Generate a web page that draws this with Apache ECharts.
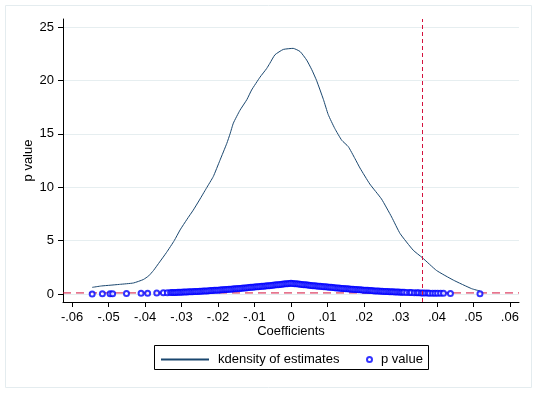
<!DOCTYPE html>
<html><head><meta charset="utf-8">
<script src="https://cdn.jsdelivr.net/npm/echarts@6/dist/echarts.min.js"></script>
<style>html,body{margin:0;padding:0;background:#fff}#c{width:538px;height:394px}</style>
</head><body><div id="c"></div>
<script>
const xTicks = [-0.06,-0.05,-0.04,-0.03,-0.02,-0.01,0,0.01,0.02,0.03,0.04,0.05,0.06];
const yTicks = [0,5,10,15,20,25];
const xRange = [-0.0625, 0.0625];
const yRange = [-0.75, 25.75];

const densityX = [-0.0545,-0.052,-0.0496,-0.047,-0.0432,-0.0405,-0.039,-0.0377,-0.036,-0.0341,-0.032,-0.0304,-0.0285,-0.0268,-0.0251,-0.0232,-0.0213,-0.0195,-0.0176,-0.0167,-0.0158,-0.014,-0.0121,-0.0108,-0.0085,-0.0067,-0.0058,-0.0044,-0.0021,0.0006,0.0025,0.0043,0.0057,0.007,0.0089,0.0102,0.012,0.0139,0.0157,0.0175,0.0189,0.0216,0.0248,0.0276,0.0299,0.0335,0.036,0.0399,0.0445,0.0495,0.0518];
const densityY = [0.62,0.75,0.82,0.9,1.03,1.35,1.7,2.2,3.0,3.9,5.0,6.0,7.0,7.85,8.8,9.9,11.0,12.5,14.1,15.0,16.0,17.2,18.2,19.1,20.3,21.1,21.6,22.4,22.9,23.0,22.7,21.9,21.0,20.0,18.2,16.8,15.5,14.4,13.8,12.7,11.8,10.3,8.9,7.2,5.66,4.1,3.4,2.2,1.3,0.5,0.28];

const pValueX = [-0.0545,-0.0517,-0.0496,-0.0489,-0.0451,-0.0411,-0.0393,-0.0368,-0.035,-0.0339,
 -0.033,-0.0325,-0.032,-0.0315,-0.031,-0.0305,-0.030,-0.0295,-0.029,-0.0285,-0.028,-0.0275,-0.027,-0.0265,-0.026,-0.0255,-0.025,-0.0245,-0.024,-0.0235,-0.023,-0.0225,-0.022,-0.0215,-0.021,-0.0205,-0.020,-0.0195,-0.019,-0.0185,-0.018,-0.0175,-0.017,-0.0165,-0.016,-0.0155,-0.015,-0.0145,-0.014,-0.0135,-0.013,-0.0125,-0.012,-0.0115,-0.011,-0.0105,-0.010,-0.0095,-0.009,-0.0085,-0.008,-0.0075,-0.007,-0.0065,-0.006,-0.0055,-0.005,-0.0045,-0.004,-0.0035,-0.003,-0.0025,-0.002,-0.0015,-0.001,-0.0005,
 0,0.0005,0.001,0.0015,0.002,0.0025,0.003,0.0035,0.004,0.0045,0.005,0.0055,0.006,0.0065,0.007,0.0075,0.008,0.0085,0.009,0.0095,0.010,0.0105,0.011,0.0115,0.012,0.0125,0.013,0.0135,0.014,0.0145,0.015,0.0155,0.016,0.0165,0.017,0.0175,0.018,0.0185,0.019,0.0195,0.020,0.0205,0.021,0.0215,0.022,0.0225,0.023,0.0235,0.024,0.0245,0.025,0.0255,0.026,0.0265,0.027,0.0275,0.028,0.0285,0.029,0.0295,0.030,0.0305,0.031,
 0.0317,0.0325,0.033,0.0338,0.0345,0.035,0.0357,0.0362,0.0368,0.0375,0.038,0.0388,0.0395,0.0402,0.041,0.0418,0.0437,0.0518];
const pValueP = [0.01,0.02,0.02,0.03,0.04,0.06,0.07,0.09,0.11,0.12,
 0.13,0.14,0.14,0.15,0.16,0.16,0.17,0.18,0.19,0.19,0.20,0.21,0.22,0.23,0.24,0.24,0.25,0.26,0.27,0.28,0.29,0.30,0.32,0.33,0.34,0.35,0.36,0.37,0.39,0.40,0.41,0.42,0.44,0.45,0.47,0.48,0.49,0.51,0.52,0.54,0.55,0.57,0.58,0.60,0.62,0.63,0.65,0.67,0.68,0.70,0.72,0.73,0.75,0.77,0.78,0.80,0.82,0.84,0.86,0.87,0.89,0.91,0.93,0.95,0.96,0.98,
 1.00,0.98,0.96,0.95,0.93,0.91,0.89,0.87,0.86,0.84,0.82,0.80,0.78,0.77,0.75,0.73,0.72,0.70,0.68,0.67,0.65,0.63,0.62,0.60,0.58,0.57,0.55,0.54,0.52,0.51,0.49,0.48,0.47,0.45,0.44,0.42,0.41,0.40,0.39,0.37,0.36,0.35,0.34,0.33,0.32,0.30,0.29,0.28,0.27,0.26,0.25,0.24,0.24,0.23,0.22,0.21,0.20,0.19,0.19,0.18,0.17,0.16,0.16,
 0.15,0.14,0.13,0.12,0.12,0.11,0.10,0.10,0.09,0.09,0.08,0.08,0.07,0.07,0.06,0.06,0.05,0.02];

const criticalCoef = 0.036;
const pThreshold = 0.1;

const FONT = "'Liberation Sans', Arial, sans-serif";
const RED = '#d4113d';
const fmtX = v => v === 0 ? '0' : (v < 0 ? '-' : '') + Math.abs(v).toFixed(2).replace(/^0/, '');

const chart = echarts.init(document.getElementById('c'), null, {renderer: 'canvas'});
chart.setOption({
  animation: false,
  backgroundColor: '#fff',
  textStyle: {fontFamily: FONT},
  grid: {left: 63, right: 19, top: 19, bottom: 92, containLabel: false},
  xAxis: {
    type: 'value', min: xRange[0], max: xRange[1],
    axisLine: {show: true, onZero: false, lineStyle: {color: '#000', width: 1}},
    axisTick: {show: true, customValues: xTicks, length: 5, lineStyle: {color: '#000'}},
    axisLabel: {customValues: xTicks, formatter: fmtX, margin: 9, fontSize: 13, color: '#000', fontFamily: FONT},
    splitLine: {show: false},
    name: 'Coefficients', nameLocation: 'middle', nameGap: 23, nameMoveOverlap: false,
    nameTextStyle: {fontSize: 13, color: '#000', fontFamily: FONT}
  },
  yAxis: {
    type: 'value', min: yRange[0], max: yRange[1],
    axisLine: {show: true, onZero: false, lineStyle: {color: '#000', width: 1}},
    axisTick: {show: true, customValues: yTicks, length: 5, lineStyle: {color: '#000'}},
    axisLabel: {customValues: yTicks, margin: 9, fontSize: 13, color: '#000', fontFamily: FONT},
    splitLine: {show: true, lineStyle: {color: '#e6eef0', width: 1}},
    name: 'p value', nameLocation: 'middle', nameGap: 28, nameMoveOverlap: false,
    nameTextStyle: {fontSize: 13, color: '#000', fontFamily: FONT}
  },
  legend: [
    {data: ['kdensity of estimates'], left: 160, top: 353, padding: 0, itemWidth: 48, itemHeight: 14,
     itemStyle: {opacity: 0},
     textStyle: {fontSize: 13, color: '#000', fontFamily: FONT, padding: [0, 0, 0, 4]}},
    {data: [{name: 'p value', icon: 'emptyCircle'}], left: 366, top: 353, padding: 0, itemWidth: 5, itemHeight: 14,
     itemStyle: {borderWidth: 1},
     textStyle: {fontSize: 13, color: '#000', fontFamily: FONT, padding: [0, 0, 0, 4]}}
  ],
  graphic: [
    {type: 'rect', shape: {x: 5.5, y: 5.5, width: 526, height: 382}, style: {fill: 'none', stroke: '#e4ecef', lineWidth: 1}, silent: true, z: -1},
    {type: 'rect', shape: {x: 154.5, y: 345.5, width: 274, height: 24}, style: {fill: 'none', stroke: '#000', lineWidth: 1}, silent: true}
  ],
  series: [
    {
      name: 'p = threshold', type: 'line', silent: true,
      data: [[xRange[0], pThreshold], [xRange[1], pThreshold]],
      symbol: 'none', showSymbol: false,
      lineStyle: {color: RED, width: 1, type: [8, 5]},
      itemStyle: {color: RED},
      z: 1
    },
    {
      name: 'kdensity of estimates', type: 'line',
      data: densityX.map((x, i) => [x, densityY[i]]),
      symbol: 'none', showSymbol: false, smooth: 0.15,
      lineStyle: {color: '#1a476f', width: 1},
      itemStyle: {color: '#1a476f'},
      z: 2,
      markLine: {
        silent: true, symbol: 'none', precision: 4, label: {show: false},
        itemStyle: {color: RED},
        lineStyle: {color: RED, width: 1, type: [4, 3]},
        emphasis: {disabled: true},
        data: [
          {xAxis: criticalCoef}
        ]
      }
    },
    {
      name: 'p value', type: 'scatter',
      data: pValueX.map((x, i) => [x, pValueP[i]]),
      symbol: 'emptyCircle', symbolSize: 5,
      itemStyle: {color: '#0000ff', borderColor: '#0000ff', borderWidth: 1},
      z: 3
    }
  ]
});
</script>
</body></html>
